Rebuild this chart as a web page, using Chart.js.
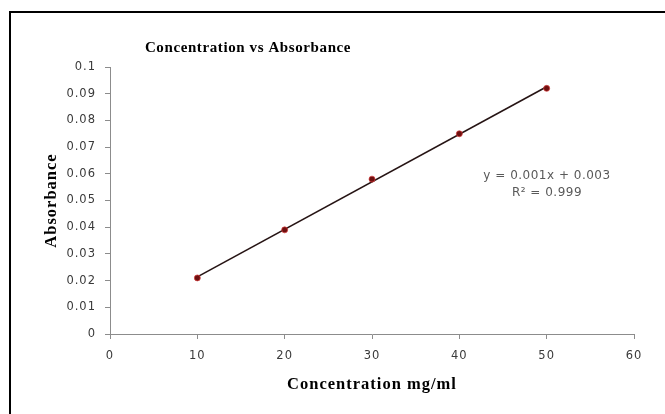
<!DOCTYPE html>
<html>
<head>
<meta charset="utf-8">
<script src="https://cdn.jsdelivr.net/npm/chart.js@4/dist/chart.umd.min.js"></script>
<style>
  html, body { margin: 0; padding: 0; background: #fff; overflow: hidden; }
  #wrap { position: relative; width: 665px; height: 414px; overflow: hidden; }
  #frame { position: absolute; left: 9px; top: 11px; width: 700px; height: 500px; border: 2px solid #000; }
  canvas { position: absolute; left: 0; top: 0; }
</style>
</head>
<body>
<div id="wrap">
  <div id="frame"></div>
  <canvas id="chart" width="665" height="414"></canvas>
</div>
<script>
// Concentration (mg/ml) vs measured absorbance
const concentration = [10, 20, 30, 40, 50];
const absorbance = [0.021, 0.039, 0.058, 0.075, 0.092];

const xTickLabels = ["0", "10", "20", "30", "40", "50", "60"];
const yTickLabels = ["0", "0.01", "0.02", "0.03", "0.04", "0.05", "0.06", "0.07", "0.08", "0.09", "0.1"];

const equationLines = ["y = 0.001x + 0.003", "R\u00b2 = 0.999"];

// least squares fit for the trendline
function linearFit(xs, ys) {
  const n = xs.length;
  const mx = xs.reduce((a, b) => a + b, 0) / n;
  const my = ys.reduce((a, b) => a + b, 0) / n;
  let sxy = 0, sxx = 0;
  for (let i = 0; i < n; i++) {
    sxy += (xs[i] - mx) * (ys[i] - my);
    sxx += (xs[i] - mx) * (xs[i] - mx);
  }
  const slope = sxy / sxx;
  return { slope, intercept: my - slope * mx };
}

const fit = linearFit(concentration, absorbance);
const xFirst = concentration[0];
const xLast = concentration[concentration.length - 1];
const trendPoints = [
  { x: xFirst, y: fit.slope * xFirst + fit.intercept },
  { x: xLast, y: fit.slope * xLast + fit.intercept }
];

const AXIS_GRAY = "#8c8c8c";

const textPlugin = {
  id: "textPlugin",
  beforeDraw(chart) {
    chart.ctx.letterSpacing = "1px";
  },
  afterDraw(chart) {
    const ctx = chart.ctx;
    ctx.save();
    ctx.textAlign = "center";
    ctx.textBaseline = "middle";

    ctx.letterSpacing = "0.6px";
    ctx.fillStyle = "#000";
    ctx.font = "bold 15px 'Liberation Serif', 'Times New Roman', serif";
    ctx.fillText("Concentration vs Absorbance", 248, 48);

    ctx.letterSpacing = "0.5px";
    ctx.fillStyle = "#595959";
    ctx.font = "12px 'DejaVu Sans', Verdana, sans-serif";
    ctx.fillText(equationLines[0], 547, 176);
    ctx.fillText(equationLines[1], 547, 193);
    ctx.restore();
  }
};

new Chart(document.getElementById("chart"), {
  type: "scatter",
  data: {
    datasets: [
      {
        label: "Absorbance",
        data: concentration.map((c, i) => ({ x: c, y: absorbance[i] })),
        backgroundColor: "#6e1010",
        borderColor: "rgba(215, 60, 60, 0.7)",
        borderWidth: 1,
        pointRadius: 3,
        order: 0
      },
      {
        label: "Linear",
        type: "line",
        data: trendPoints,
        borderColor: "#261414",
        borderWidth: 1.6,
        pointRadius: 0,
        fill: false,
        order: 1
      }
    ]
  },
  options: {
    responsive: false,
    animation: false,
    events: [],
    layout: { padding: { left: 42, right: 31, top: 67, bottom: 19 } },
    plugins: {
      legend: { display: false },
      tooltip: { enabled: false },
      title: { display: false }
    },
    scales: {
      x: {
        type: "linear",
        min: 0,
        max: 60,
        afterFit(scale) { scale.height = 61; },
        afterBuildTicks(scale) {
          scale.ticks = xTickLabels.map((t) => ({ value: Number(t) }));
        },
        ticks: {
          callback: (v, i) => xTickLabels[i],
          color: "#3a3a3a",
          padding: 10,
          maxRotation: 0,
          font: { family: "'DejaVu Sans', Verdana, sans-serif", size: 11.5 }
        },
        grid: { drawOnChartArea: false, drawTicks: true, tickLength: 5, color: AXIS_GRAY },
        border: { display: true, color: AXIS_GRAY, width: 1 },
        title: {
          display: true,
          text: "Concentration mg/ml",
          color: "#000",
          padding: 0,
          font: { family: "'Liberation Serif', 'Times New Roman', serif", size: 16.5, weight: "bold" }
        }
      },
      y: {
        type: "linear",
        min: 0,
        max: 0.1,
        afterFit(scale) { scale.width = 68; },
        afterBuildTicks(scale) {
          scale.ticks = yTickLabels.map((t) => ({ value: Number(t) }));
        },
        ticks: {
          callback: (v, i) => yTickLabels[i],
          color: "#3a3a3a",
          padding: 9,
          font: { family: "'DejaVu Sans', Verdana, sans-serif", size: 11.5 }
        },
        grid: { drawOnChartArea: false, drawTicks: true, tickLength: 5, color: AXIS_GRAY },
        border: { display: true, color: AXIS_GRAY, width: 1 },
        title: {
          display: true,
          text: "Absorbance",
          color: "#000",
          padding: 0,
          font: { family: "'Liberation Serif', 'Times New Roman', serif", size: 16.5, weight: "bold" }
        }
      }
    }
  },
  plugins: [textPlugin]
});
</script>
</body>
</html>
